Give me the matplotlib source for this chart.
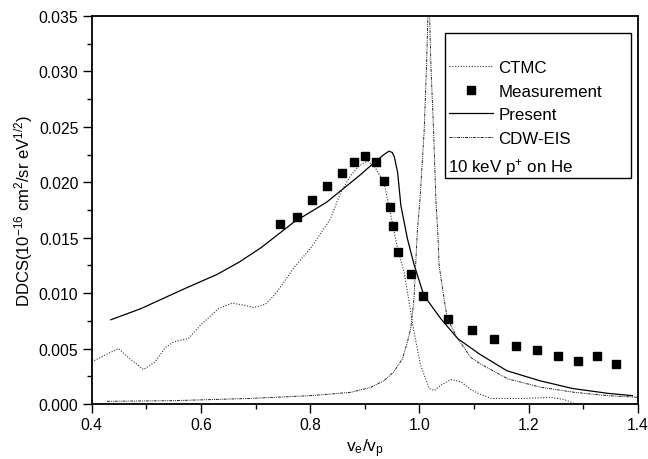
import matplotlib
matplotlib.use("Agg")
import matplotlib.pyplot as plt
from matplotlib.patches import Rectangle
from matplotlib.ticker import MultipleLocator, FormatStrFormatter

plt.rcParams['font.family'] = ['Liberation Sans', 'DejaVu Sans']
plt.rcParams['mathtext.fontset'] = 'custom'
plt.rcParams['mathtext.rm'] = 'Liberation Sans'
plt.rcParams['mathtext.it'] = 'Liberation Sans'
plt.rcParams['mathtext.default'] = 'regular'

# ---- data ----
meas_x = [0.744, 0.775, 0.804, 0.831, 0.859, 0.880, 0.900, 0.920, 0.936, 0.946,
          0.952, 0.960, 0.984, 1.007, 1.052, 1.096, 1.137, 1.177, 1.216, 1.253,
          1.290, 1.325, 1.359]
meas_y = [0.0162, 0.0169, 0.0184, 0.0197, 0.0208, 0.0218, 0.0224, 0.0218, 0.0201, 0.0178,
          0.0161, 0.0137, 0.0117, 0.0097, 0.0077, 0.0067, 0.0059, 0.0052, 0.0049, 0.0043,
          0.0039, 0.0043, 0.0036]

present_x = [0.435, 0.49, 0.57, 0.63, 0.67, 0.71, 0.77, 0.83, 0.89, 0.92, 0.935,
             0.944, 0.950, 0.954, 0.960, 0.966, 0.978, 0.990, 1.008, 1.039, 1.070,
             1.11, 1.16, 1.22, 1.28, 1.345, 1.39]
present_y = [0.0076, 0.0086, 0.0104, 0.0117, 0.0128, 0.0141, 0.0164, 0.0182, 0.0206, 0.0219, 0.0225,
             0.0228, 0.0227, 0.0223, 0.0209, 0.0179, 0.0149, 0.0126, 0.0098, 0.0077, 0.0059,
             0.0045, 0.0030, 0.0021, 0.0014, 0.00096, 0.00075]

ctmc_x = [0.400, 0.424, 0.449, 0.467, 0.495, 0.516, 0.535, 0.550, 0.577, 0.599,
          0.632, 0.657, 0.680, 0.697, 0.718, 0.736, 0.752, 0.770, 0.800, 0.837,
          0.856, 0.874, 0.890, 0.905, 0.918, 0.935, 0.944, 0.960, 0.972, 0.978,
          0.990, 1.002, 1.018, 1.027, 1.039, 1.058, 1.076, 1.094, 1.110, 1.131,
          1.190, 1.240, 1.265, 1.285]
ctmc_y = [0.0038, 0.0044, 0.0050, 0.0042, 0.0031, 0.0038, 0.0051, 0.0056, 0.0059, 0.0071,
          0.0086, 0.0091, 0.0089, 0.0087, 0.0090, 0.0099, 0.0110, 0.0123, 0.0140, 0.0167,
          0.0191, 0.0206, 0.0215, 0.0219, 0.0214, 0.0200, 0.0179, 0.0140, 0.0119, 0.0101,
          0.0065, 0.0035, 0.0014, 0.0012, 0.0017, 0.0022, 0.0020, 0.0013, 0.0009, 0.0005,
          0.0005, 0.0006, 0.0004, 0.0000]

cdw_x = [0.428, 0.55, 0.69, 0.80, 0.874, 0.911, 0.935, 0.953, 0.969, 0.978, 0.984,
         0.990, 0.996, 1.001, 1.0085, 1.013, 1.017, 1.021, 1.026, 1.030, 1.034,
         1.036, 1.045, 1.051, 1.070, 1.094, 1.112, 1.162, 1.223, 1.284, 1.345, 1.40]
cdw_y = [0.00024, 0.0003, 0.0005, 0.00075, 0.00105, 0.0015, 0.0021, 0.0029, 0.0041, 0.0056, 0.0068,
         0.0095, 0.0155, 0.0185, 0.0245, 0.0305, 0.0380, 0.0305, 0.0245, 0.0185, 0.0150,
         0.0125, 0.0095, 0.0077, 0.0059, 0.0042, 0.0036, 0.00226, 0.0015, 0.00105, 0.00075, 0.0006]

fig = plt.figure(figsize=(6.48, 4.60), dpi=100)
ax = fig.add_axes([0.1415, 0.1196, 0.843, 0.8434])

l_ctmc, = ax.plot(ctmc_x, ctmc_y, color='#333333', lw=0.8, linestyle=(0, (1, 1.5)))
l_meas, = ax.plot(meas_x, meas_y, 's', color='black', markersize=6.3, linestyle='none')
l_pres, = ax.plot(present_x, present_y, color='black', lw=0.9)
l_cdw, = ax.plot(cdw_x, cdw_y, color='#222222', lw=0.7, linestyle=(0, (3, 1, 1, 1, 1, 1)))

ax.set_xlim(0.4, 1.4)
ax.set_ylim(0.0, 0.035)
ax.xaxis.set_major_locator(MultipleLocator(0.2))
ax.xaxis.set_minor_locator(MultipleLocator(0.1))
ax.yaxis.set_major_locator(MultipleLocator(0.005))
ax.yaxis.set_minor_locator(MultipleLocator(0.0025))
ax.xaxis.set_major_formatter(FormatStrFormatter('%.1f'))
ax.yaxis.set_major_formatter(FormatStrFormatter('%.3f'))
ax.tick_params(which='major', direction='out', length=6.5, width=1, labelsize=11.3, pad=3)
ax.tick_params(which='minor', direction='out', length=3.3, width=1)
for s in ax.spines.values():
    s.set_linewidth(1.3)

ax.set_xlabel('v$_e$/v$_p$', fontsize=12.5, labelpad=3)
ax.set_ylabel('DDCS(10$^{-16}$ cm$^2$/sr eV$^{1/2}$)', fontsize=12, labelpad=3)

# legend box, drawn by hand so the last text line can sit flush left
ax.add_patch(Rectangle((0.647, 0.582), 0.340, 0.373, transform=ax.transAxes,
                       fill=False, edgecolor='black', lw=1.0, zorder=5))
leg = ax.legend([l_ctmc, l_meas, l_pres, l_cdw],
                ['CTMC', 'Measurement', 'Present', 'CDW-EIS'],
                loc='upper left', bbox_to_anchor=(0.648, 0.895), frameon=False,
                fontsize=12.2, handlelength=2.6, handletextpad=0.3,
                labelspacing=0.5, borderpad=0.2, borderaxespad=0)
ax.text(0.652, 0.613, '10 keV $p^{+}$ on He', transform=ax.transAxes,
        fontsize=12.2, va='center', ha='left')

fig.savefig('out.png', dpi=100)
